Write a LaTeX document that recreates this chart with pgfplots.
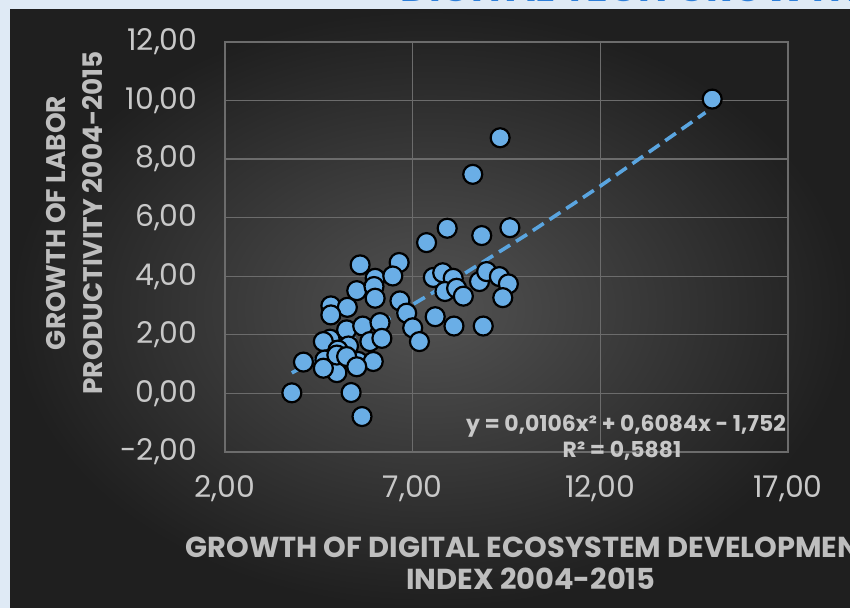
\documentclass[border=0pt]{standalone}
\usepackage{pgfplots}
\pgfplotsset{compat=1.18}
\usepackage{fontspec}
\setmainfont{Poppins}

\definecolor{frameblue}{HTML}{DFEAF5}
\definecolor{titleblue}{HTML}{2E7FD9}
\definecolor{bginner}{HTML}{525252}
\definecolor{bgouter}{HTML}{1F1F1F}
\definecolor{gridgray}{HTML}{6C6C6C}
\definecolor{ticktext}{HTML}{C8C8C8}
\definecolor{labeltext}{HTML}{BEBEBE}
\definecolor{dotblue}{HTML}{6AAEE6}
\definecolor{trendblue}{HTML}{5AA5E0}

\begin{document}
\begin{tikzpicture}[x=1bp,y=1bp]
  \clip (0,0) rectangle (850,608);
  \fill[frameblue] (0,0) rectangle (850,608);
  \node[anchor=base west, text=titleblue, font=\bfseries\fontsize{40}{40}\selectfont, inner sep=0]
    at (400,606) {DIGITAL TECH GROWTH TO};
  \shade[inner color=bginner, outer color=bgouter] (10,0) rectangle (850,598);

  \begin{axis}[
    at={(225bp,156bp)}, anchor=south west,
    scale only axis,
    width=563bp, height=410bp,
    xmin=2, xmax=17, ymin=-2, ymax=12,
    xtick={2,7,12,17},
    xticklabels={{2,00},{7,00},{12,00},{17,00}},
    ytick={-2,0,2,4,6,8,10,12},
    yticklabels={{-2,00},{0,00},{2,00},{4,00},{6,00},{8,00},{10,00},{12,00}},
    grid=major,
    grid style={gridgray, line width=1.3bp},
    axis line style={gridgray, line width=1.3bp},
    major tick length=0pt,
    ticklabel style={text=ticktext, font=\fontsize{30}{30}\selectfont},
    yticklabel style={xshift=-24bp},
    xticklabel style={yshift=-20bp},
  ]

  % trend line y = 0,0106x^2 + 0,6084x - 1,752
  \addplot[trendblue, line width=3.6bp, dash pattern=on 13bp off 7bp]
  coordinates {
    (3.78,0.70)(6,2.28)(8,3.79)(10,5.39)(12,7.08)(14.8,9.59)
  };

  \addplot[
    only marks,
    mark=*,
    mark size=9.5bp,
    mark options={fill=dotblue, draw=black, line width=2.2bp},
  ]
  coordinates {
    (3.78,0.02)(4.09,1.07)(5.36,0.03)(5.65,-0.79)(14.98,10.05)
    (9.33,8.73)(8.60,7.48)(7.92,5.64)(8.84,5.39)(9.59,5.66)
    (7.37,5.15)(5.60,4.39)(6.64,4.47)(6.00,3.93)(6.47,4.01)
    (5.51,3.51)(5.97,3.65)(6.00,3.25)(4.82,2.99)(5.26,2.94)
    (4.82,2.68)(6.66,3.16)(6.84,2.74)(7.00,2.24)(7.18,1.77)
    (7.60,2.62)(8.10,2.30)(8.88,2.30)(7.55,3.96)(7.80,4.12)
    (8.08,3.93)(7.86,3.48)(8.17,3.59)(8.35,3.32)(8.78,3.82)
    (8.97,4.16)(9.31,3.99)(9.55,3.74)(9.40,3.27)(5.24,2.17)
    (5.67,2.30)(6.13,2.42)(5.86,1.77)(6.18,1.88)(4.80,1.85)
    (4.62,1.77)(5.29,1.62)(5.01,1.48)(4.66,1.14)(4.98,0.71)
    (5.55,1.09)(5.95,1.09)(4.62,0.86)(4.98,1.31)(5.24,1.26)
    (5.51,0.91)
  };
  \end{axis}

  \node[text=ticktext, font=\bfseries\fontsize{22}{22}\selectfont, inner sep=0]
    at (626,182) {y = 0,0106x² + 0,6084x - 1,752};
  \node[text=ticktext, font=\bfseries\fontsize{22}{22}\selectfont, inner sep=0]
    at (622,157) {R² = 0,5881};

  \node[rotate=90, text=labeltext, inner sep=0] at (78,385)
    {\scalebox{0.98}[1]{\bfseries\fontsize{27}{30}\selectfont
     \begin{tabular}{@{}c@{}}GROWTH OF LABOR\\[7bp]PRODUCTIVITY 2004-2015\end{tabular}}};
  \node[text=labeltext, inner sep=0] at (531,41)
    {\scalebox{1.0}[1]{\bfseries\fontsize{29}{32}\selectfont
     \begin{tabular}{@{}c@{}}GROWTH OF DIGITAL ECOSYSTEM DEVELOPMENT\\INDEX 2004-2015\end{tabular}}};
\end{tikzpicture}
\end{document}
